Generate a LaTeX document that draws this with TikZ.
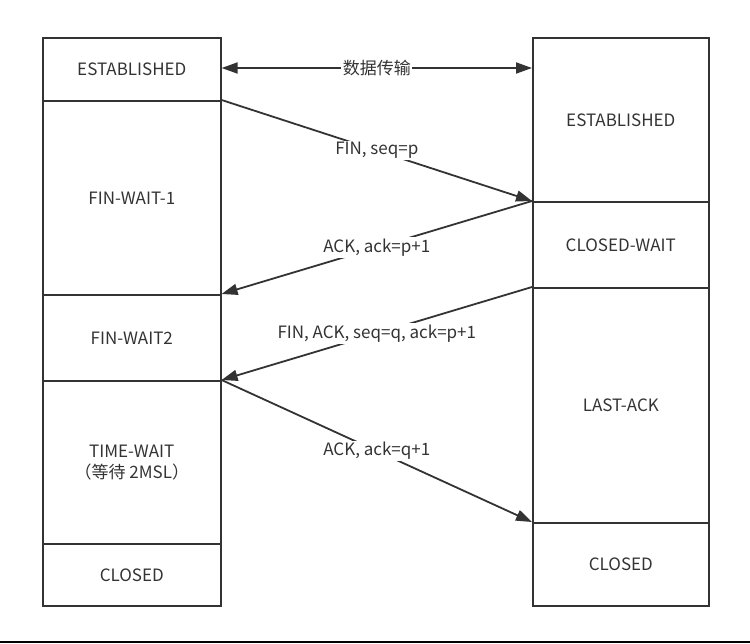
\documentclass[tikz,border=0pt]{standalone}
\usepackage{fontspec}
\setmainfont{Noto Sans CJK SC}
\usetikzlibrary{arrows.meta}
\definecolor{ink}{HTML}{333333}
\tikzset{
  statebox/.style={draw=ink, line width=1.6pt, anchor=north west, inner sep=0pt,
    text=ink, font=\fontsize{17}{21}\selectfont, align=center},
  msg/.style={draw=ink, line width=1.8pt, -{Triangle[length=16pt,width=11pt]}},
  msglabel/.style={fill=white, text=ink, inner sep=1.5pt, font=\fontsize{17}{21}\selectfont},
}
\begin{document}
\begin{tikzpicture}[x=1pt,y=-1pt]
\useasboundingbox (0,0) rectangle (750,643);
% left column
\node[statebox, minimum width=178pt, minimum height=63pt] (le) at (42,37) {ESTABLISHED};
\node[statebox, minimum width=178pt, minimum height=194pt] (lfw1) at (42,100) {FIN-WAIT-1};
\node[statebox, minimum width=178pt, minimum height=86pt] (lfw2) at (42,294) {FIN-WAIT2};
\node[statebox, minimum width=178pt, minimum height=163pt] (ltw) at (42,380) {TIME-WAIT\\（等待 2MSL）};
\node[statebox, minimum width=178pt, minimum height=62pt] (lc) at (42,543) {CLOSED};
% right column
\node[statebox, minimum width=176pt, minimum height=164pt] (re) at (532,37) {ESTABLISHED};
\node[statebox, minimum width=176pt, minimum height=86pt] (rcw) at (532,201) {CLOSED-WAIT};
\node[statebox, minimum width=176pt, minimum height=235pt] (rla) at (532,287) {LAST-ACK};
\node[statebox, minimum width=176pt, minimum height=83pt] (rc) at (532,522) {CLOSED};
% connectors
\draw[draw=ink, line width=1.8pt, {Triangle[length=16pt,width=11pt]}-{Triangle[length=16pt,width=11pt]}] (le.east |- 0,68) -- (re.west |- 0,68)
  node[msglabel, midway] {数据传输};
\draw[msg] (lfw1.north east) -- (rcw.north west) node[msglabel, midway] {FIN, seq=p};
\draw[msg] (rcw.north west) -- (lfw2.north east) node[msglabel, midway] {ACK, ack=p+1};
\draw[msg] (rla.north west) -- (ltw.north east) node[msglabel, midway] {FIN, ACK, seq=q, ack=p+1};
\draw[msg] (ltw.north east) -- (rc.north west) node[msglabel, midway] {ACK, ack=q+1};
% bottom rule
\fill[black] (0,640.5) rectangle (750,643);
\end{tikzpicture}
\end{document}
